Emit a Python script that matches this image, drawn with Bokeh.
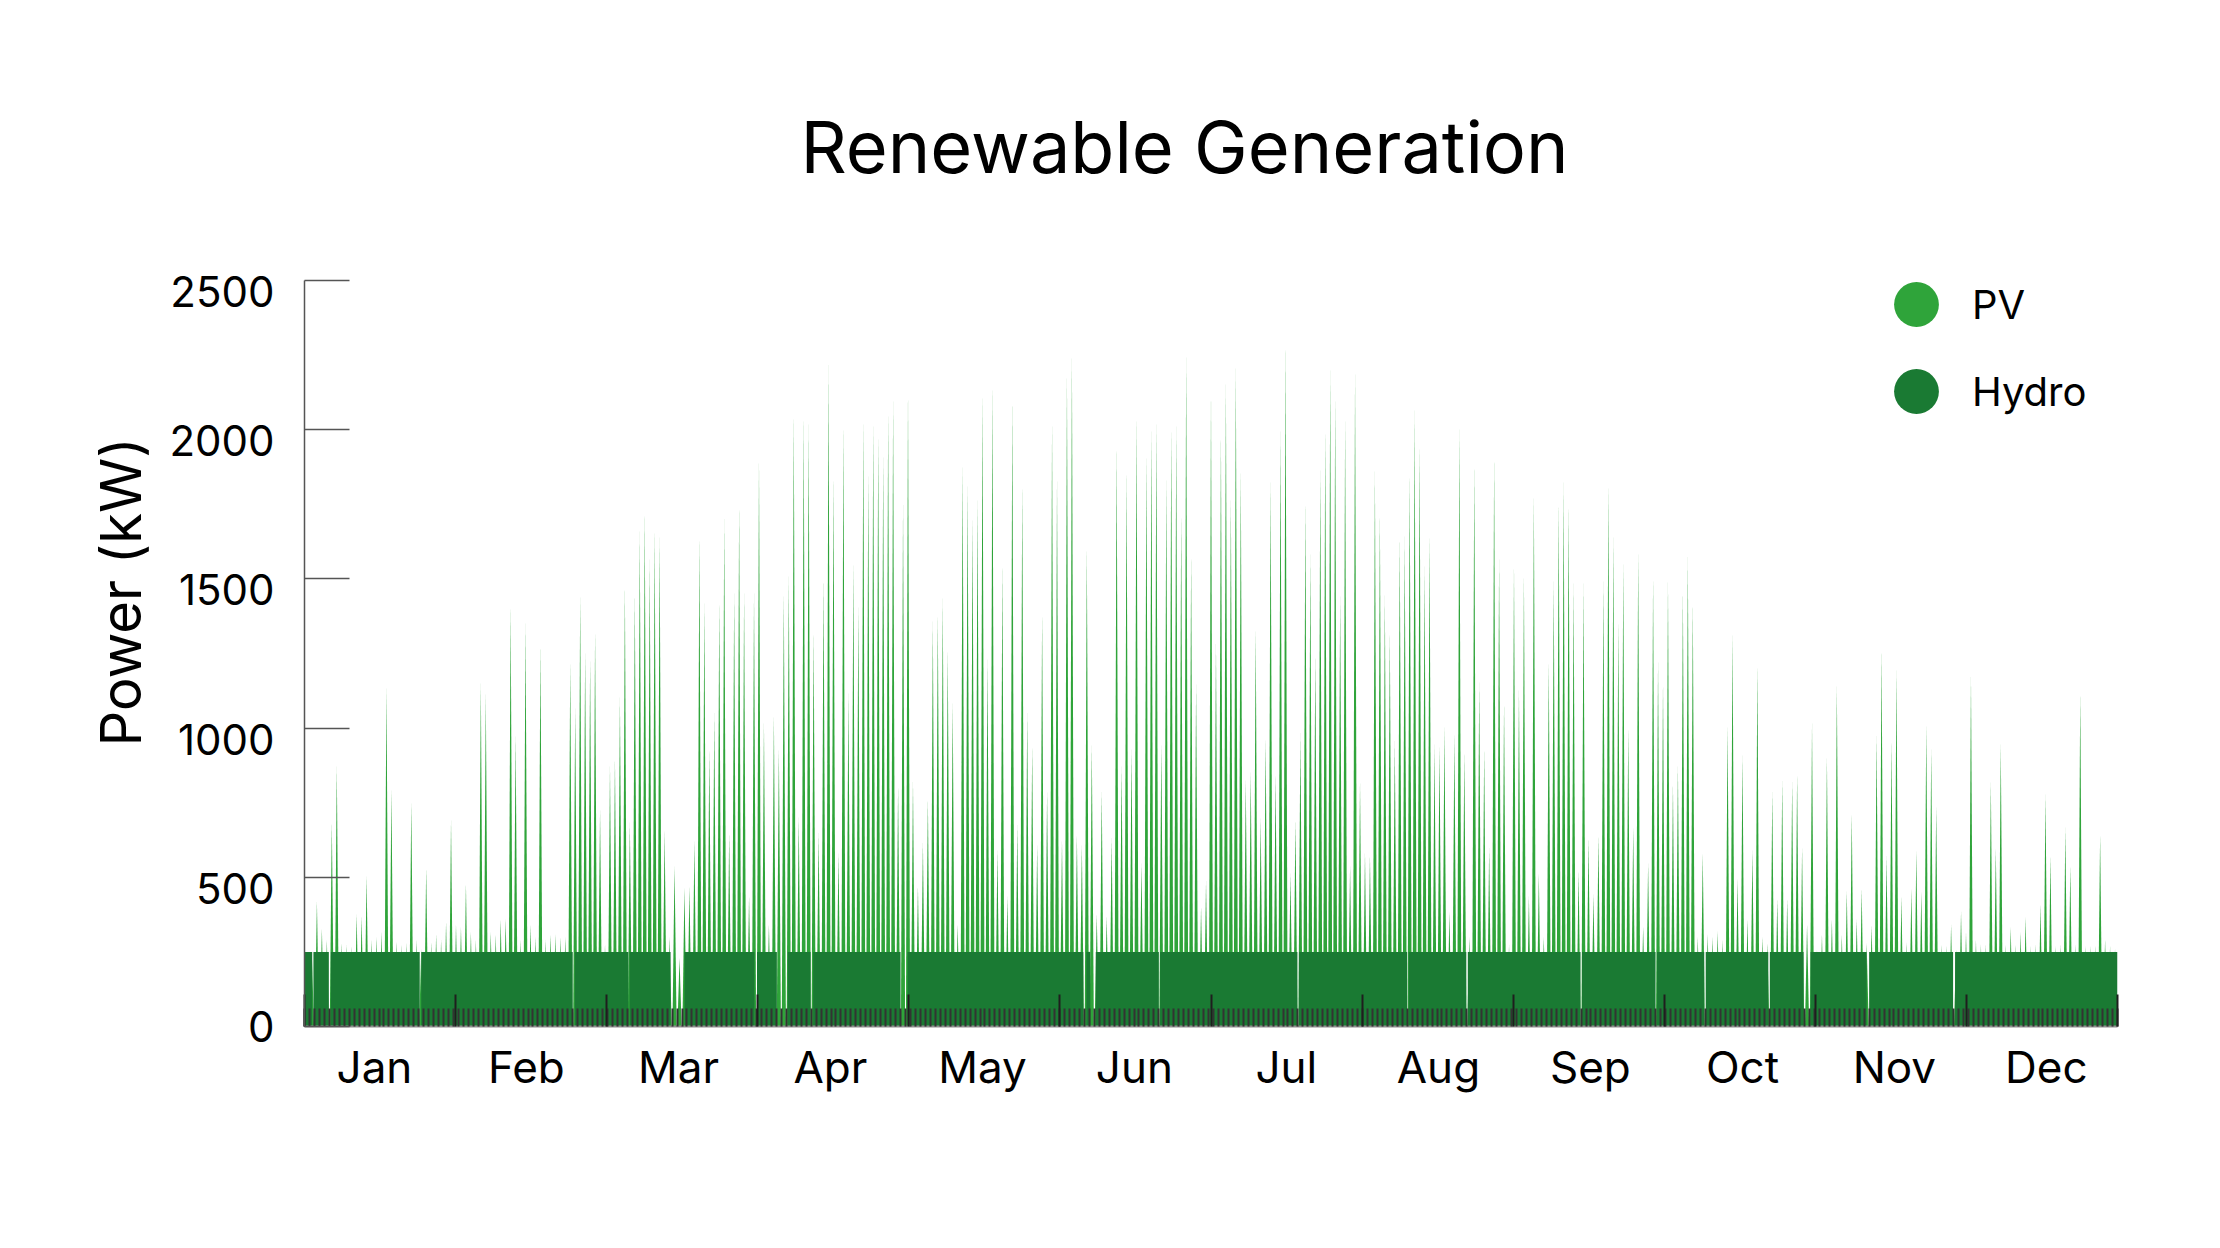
from bokeh.plotting import figure
from bokeh.models import (Range1d, FixedTicker, LinearAxis, Legend, LegendItem, Title)
from bokeh.embed import file_html
from bokeh.resources import INLINE

# ---------------- data ----------------
months = ["Jan", "Feb", "Mar", "Apr", "May", "Jun",
          "Jul", "Aug", "Sep", "Oct", "Nov", "Dec"]
y_ticks = [0, 500, 1000, 1500, 2000, 2500]

# daily PV peak (kW), day 0 .. 364
pv_daily_peak_kw = [
    210, 230, 419, 329, 290, 685, 873, 280, 274, 270,
    377, 370, 505, 290, 300, 317, 1138, 796, 285, 274,
    280, 753, 290, 260, 531, 282, 308, 291, 351, 693,
    342, 334, 479, 317, 290, 1155, 1121, 317, 308, 360,
    360, 1412, 976, 291, 1352, 342, 300, 1284, 291, 308,
    308, 300, 300, 1224, 1070, 1447, 1258, 1233, 1327, 728,
    274, 873, 899, 1104, 1481, 685, 1455, 1660, 1733, 1567,
    1669, 1644, 659, 300, 539, 230, 466, 471, 625, 1644,
    1421, 933, 1053, 1430, 1703, 650, 1455, 1750, 1455, 437,
    1455, 1904, 1019, 342, 1044, 933, 1455, 1515, 2058, 702,
    2051, 2020, 1327, 650, 1507, 2217, 1849, 582, 2020, 1121,
    1558, 1412, 2037, 1858, 2024, 1986, 1917, 2063, 2102, 805,
    1750, 2126, 822, 471, 616, 762, 1361, 1387, 1438, 1267,
    1087, 342, 1887, 1823, 1712, 1772, 2126, 1233, 2154, 591,
    1554, 437, 2109, 676, 1823, 1053, 942, 608, 1387, 788,
    2028, 1840, 625, 2188, 2251, 642, 608, 1609, 945, 377,
    788, 370, 633, 1952, 873, 1870, 933, 2051, 548, 1921,
    2003, 2030, 950, 1840, 2010, 2017, 1721, 2250, 1584, 1147,
    402, 488, 2126, 1284, 1989, 2160, 1780, 2217, 1870, 830,
    856, 1335, 702, 967, 1832, 847, 2000, 2297, 514, 693,
    984, 1763, 1584, 1250, 1870, 2007, 2205, 2114, 1447, 2041,
    539, 2195, 822, 582, 574, 1866, 1726, 1447, 1327, 959,
    1647, 1644, 1858, 2072, 1955, 1549, 1652, 950, 942, 1010,
    385, 984, 2012, 924, 300, 1892, 1155, 933, 599, 1917,
    1567, 1087, 274, 1549, 1130, 1515, 437, 1784, 514, 300,
    1224, 1498, 1763, 1828, 1753, 1486, 522, 1486, 633, 445,
    642, 1493, 1822, 1644, 1361, 1558, 1002, 668, 1592, 334,
    548, 1507, 1224, 1150, 1489, 813, 873, 1464, 1575, 1424,
    300, 582, 308, 300, 320, 290, 1010, 1318, 496, 911,
    360, 591, 1212, 300, 280, 788, 428, 825, 428, 822,
    847, 599, 342, 1019, 257, 308, 904, 360, 1144, 308,
    454, 715, 360, 462, 280, 342, 976, 1267, 574, 959,
    1198, 437, 282, 462, 591, 454, 1013, 933, 740, 274,
    270, 342, 260, 385, 317, 1173, 291, 275, 275, 822,
    599, 950, 275, 334, 275, 317, 368, 270, 275, 411,
    779, 574, 270, 275, 668, 539, 275, 1121, 270, 270,
    270, 642, 291, 270, 260,
]

# hydro output (kW) and the periods (in days) when it was off
hydro_kw = 250
hydro_off_start_day = [1.55, 4.9, 23.2, 54.0, 65.2, 73.7, 90.6, 95.1, 101.9, 120.0,
                       156.8, 158.2, 172.0, 199.9, 222.0, 233.9, 256.9, 272.0, 281.8,
                       294.7, 301.8, 314.5, 331.9]
hydro_off_end_day = [1.8, 5.3, 23.5, 54.4, 65.45, 76.5, 91.1, 97.3, 102.4, 121.4,
                     157.4, 159.3, 172.25, 200.2, 222.3, 234.2, 257.2, 272.3, 282.1,
                     295.0, 303.2, 315.0, 332.3]

HOURS = 8760
PV_COLOR = "#2fa43a"
HYDRO_COLOR = "#1a7a33"
FONT = "Inter"

# ---------------- figure ----------------
p = figure(width=2220, height=1248, output_backend="svg", toolbar_location=None,
           x_range=Range1d(0, HOURS), y_range=Range1d(0, 2660),
           min_border_left=304, min_border_right=103,
           min_border_top=232, min_border_bottom=222,
           background_fill_color="white", border_fill_color="white",
           outline_line_color=None)
p.grid.visible = False

# PV: one narrow spike per day
half_w = 10  # hours
pv_xs = [[d * 24 + 12 - half_w, d * 24 + 12, d * 24 + 12 + half_w]
         for d in range(len(pv_daily_peak_kw))]
pv_ys = [[0, v, 0] for v in pv_daily_peak_kw]
p.patches(xs=pv_xs, ys=pv_ys, fill_color=PV_COLOR, line_color=None, fill_alpha=1.0)

# Hydro: constant blocks between outages
block_left = [0] + [e * 24 for e in hydro_off_end_day]
block_right = [s * 24 for s in hydro_off_start_day] + [HOURS]
p.quad(left=block_left, right=block_right, bottom=0, top=hydro_kw,
       fill_color=HYDRO_COLOR, line_color=None)

# ---------------- x axes ----------------
month_bounds = [730 * k for k in range(13)]
label_hours = [round(338 + 734.4 * k) for k in range(12)]

# daily ticks (no labels)
xa = p.xaxis[0]
xa.ticker = FixedTicker(ticks=[], minor_ticks=list(range(0, HOURS + 1, 24)))
xa.major_label_standoff = 0
xa.axis_line_color = "#8f8f8f"
xa.axis_line_width = 2
xa.major_tick_in = 0
xa.major_tick_out = 0
xa.minor_tick_in = 18
xa.minor_tick_out = 0
xa.minor_tick_line_color = "#333333"
xa.minor_tick_line_width = 2

# month boundary ticks (no labels)
xb = LinearAxis(ticker=FixedTicker(ticks=[], minor_ticks=month_bounds))
xb.axis_line_color = None
xb.major_label_standoff = 0
xb.major_tick_in = 0
xb.major_tick_out = 0
xb.minor_tick_in = 32
xb.minor_tick_out = 0
xb.minor_tick_line_color = "#1e1e1e"
xb.minor_tick_line_width = 2
p.add_layout(xb, "below")

# month labels
xl = LinearAxis(ticker=FixedTicker(ticks=label_hours, minor_ticks=[]),
                major_label_overrides={h: n for h, n in zip(label_hours, months)})
xl.axis_line_color = None
xl.major_tick_line_color = None
xl.minor_tick_line_color = None
xl.major_tick_in = 0
xl.major_tick_out = 0
xl.major_label_standoff = 13
xl.major_label_text_font = FONT
xl.major_label_text_font_size = "44px"
xl.major_label_text_color = "black"
p.add_layout(xl, "below")

# ---------------- y axes ----------------
# tick marks and axis line (no labels)
ya = p.yaxis[0]
ya.ticker = FixedTicker(ticks=[], minor_ticks=y_ticks)
ya.bounds = (0, 2500)
ya.axis_line_color = "#555555"
ya.axis_line_width = 1.5
ya.major_tick_in = 0
ya.major_tick_out = 0
ya.major_label_standoff = 0
ya.minor_tick_in = 45
ya.minor_tick_out = 0
ya.minor_tick_line_color = "#555555"
ya.minor_tick_line_width = 1.5

# tick labels, set slightly below their ticks as in the original
label_drop_kw = 37
y_label_pos = [max(t - label_drop_kw, 0) for t in y_ticks]
yl = LinearAxis(ticker=FixedTicker(ticks=y_label_pos, minor_ticks=[]),
                major_label_overrides={v: str(t) for v, t in zip(y_label_pos, y_ticks)},
                bounds=(0, max(y_ticks)))
yl.axis_line_color = None
yl.major_tick_line_color = None
yl.minor_tick_line_color = None
yl.major_tick_in = 0
yl.major_tick_out = 0
yl.major_label_standoff = 30
yl.major_label_text_font = FONT
yl.major_label_text_font_size = "42px"
yl.major_label_text_color = "black"
p.add_layout(yl, "left")

ylab = Title(text="Power (kW)", align="left", offset=280, standoff=24,
             text_font=FONT, text_font_size="56px", text_font_style="normal",
             text_color="black")
p.add_layout(ylab, "left")

# ---------------- title ----------------
p.title.text = "Renewable Generation"
p.title.text_font = FONT
p.title.text_font_size = "72px"
p.title.text_font_style = "normal"
p.title.text_color = "black"
p.title.align = "left"
p.title.offset = 496
p.title.standoff = 85

# ---------------- legend (one box per series) ----------------
nan = float("nan")
series_names = ["PV", "Hydro"]
series_colors = [PV_COLOR, HYDRO_COLOR]
legend_bottoms = [662, 575]   # px above the frame bottom
for name, color, vy in zip(series_names, series_colors, legend_bottoms):
    r = p.scatter(x=[nan], y=[nan], marker="circle", size=46,
                  fill_color=color, line_color=None)
    lg = Legend(items=[LegendItem(label=name, renderers=[r])],
                glyph_width=112, glyph_height=120, label_standoff=0,
                padding=0, margin=0, spacing=0, border_line_color=None,
                background_fill_alpha=0,
                label_text_font=FONT, label_text_font_size="40px",
                label_text_color="black",
                location=(1556, vy))
    p.add_layout(lg, "center")

open("out.html", "w").write(file_html(p, INLINE))
